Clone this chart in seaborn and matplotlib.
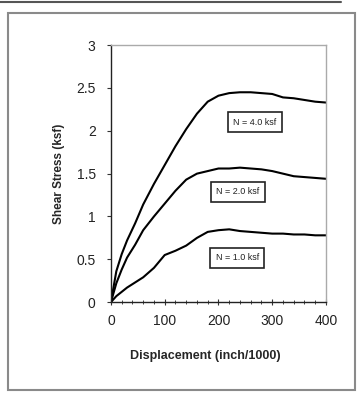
import matplotlib.pyplot as plt
import seaborn as sns
import pandas as pd
from matplotlib.patches import Rectangle
from matplotlib.lines import Line2D

# Displacement values (inch/1000) and shear stress curves (ksf)
disp = [0, 10, 20, 30, 45, 60, 80, 100, 120, 140, 160, 180, 200,
        220, 240, 260, 280, 300, 320, 340, 360, 380, 400]
n4 = [0, 0.36, 0.56, 0.72, 0.92, 1.14, 1.38, 1.60, 1.82, 2.02, 2.20, 2.34, 2.41,
      2.44, 2.45, 2.45, 2.44, 2.43, 2.39, 2.38, 2.36, 2.34, 2.33]
n2 = [0, 0.22, 0.38, 0.52, 0.67, 0.84, 1.00, 1.15, 1.30, 1.43, 1.50, 1.53, 1.56,
      1.56, 1.57, 1.56, 1.55, 1.53, 1.50, 1.47, 1.46, 1.45, 1.44]
n1 = [0, 0.07, 0.12, 0.17, 0.23, 0.29, 0.40, 0.55, 0.60, 0.66, 0.75, 0.82, 0.84,
      0.85, 0.83, 0.82, 0.81, 0.80, 0.80, 0.79, 0.79, 0.78, 0.78]

labels = ["N = 4.0 ksf", "N = 2.0 ksf", "N = 1.0 ksf"]
label_x = [268, 236, 235]
label_y = [2.10, 1.29, 0.52]

df = pd.DataFrame({
    "disp": disp * 3,
    "stress": n4 + n2 + n1,
    "load": [labels[0]] * len(disp) + [labels[1]] * len(disp) + [labels[2]] * len(disp),
})

sns.set_style("white")
plt.rcParams['font.family'] = ['Liberation Sans', 'DejaVu Sans']

fig = plt.figure(figsize=(3.59, 3.96), dpi=100)
ax = fig.add_axes([0.309, 0.237, 0.599, 0.649])

sns.lineplot(data=df, x="disp", y="stress", units="load", estimator=None,
             color="black", linewidth=1.5, ax=ax, legend=False)

for txt, tx, ty in zip(labels, label_x, label_y):
    ax.text(tx, ty, txt, fontsize=6.5, ha="center", va="center", color="#222222",
            bbox=dict(boxstyle="square,pad=0.6", fc="white", ec="#222222", lw=1.2))

ax.set_xlim(0, 400)
ax.set_ylim(0, 3)
ax.set_xticks([0, 100, 200, 300, 400])
ax.set_xticks(range(0, 401, 20), minor=True)
ax.set_yticks([0, 0.5, 1, 1.5, 2, 2.5, 3])
ax.set_yticklabels(["0", "0.5", "1", "1.5", "2", "2.5", "3"])
ax.tick_params(axis="both", labelsize=10, colors="#333333", labelcolor="#222222")
ax.tick_params(axis="x", which="major", direction="inout", length=5, width=0.8,
               bottom=True, pad=6)
ax.tick_params(axis="x", which="minor", direction="inout", length=3, width=0.6, bottom=True)
ax.tick_params(axis="y", which="major", direction="out", length=3, width=0.8,
               left=True, pad=8)

ax.set_xlabel("Displacement (inch/1000)", fontsize=9, fontweight="bold")
ax.xaxis.set_label_coords(0.44, -0.185)
ax.set_ylabel("Shear Stress (ksf)", fontsize=8.5, fontweight="bold", labelpad=8)

for side in ["left", "bottom"]:
    ax.spines[side].set_color("#222222")
    ax.spines[side].set_linewidth(1.0)
for side in ["top", "right"]:
    ax.spines[side].set_color("#aaaaaa")
    ax.spines[side].set_linewidth(1.0)

# outer frame around the figure panel
fig.patches.append(Rectangle((8 / 359, 1 - 390 / 396), 347 / 359, 377 / 396,
                             transform=fig.transFigure, fill=False,
                             ec="#8a8a8a", lw=1.5))
fig.lines.append(Line2D([0, 0.95], [0.995, 0.995], transform=fig.transFigure,
                        color="#555555", lw=1.5))

fig.savefig("out.png", dpi=100)
